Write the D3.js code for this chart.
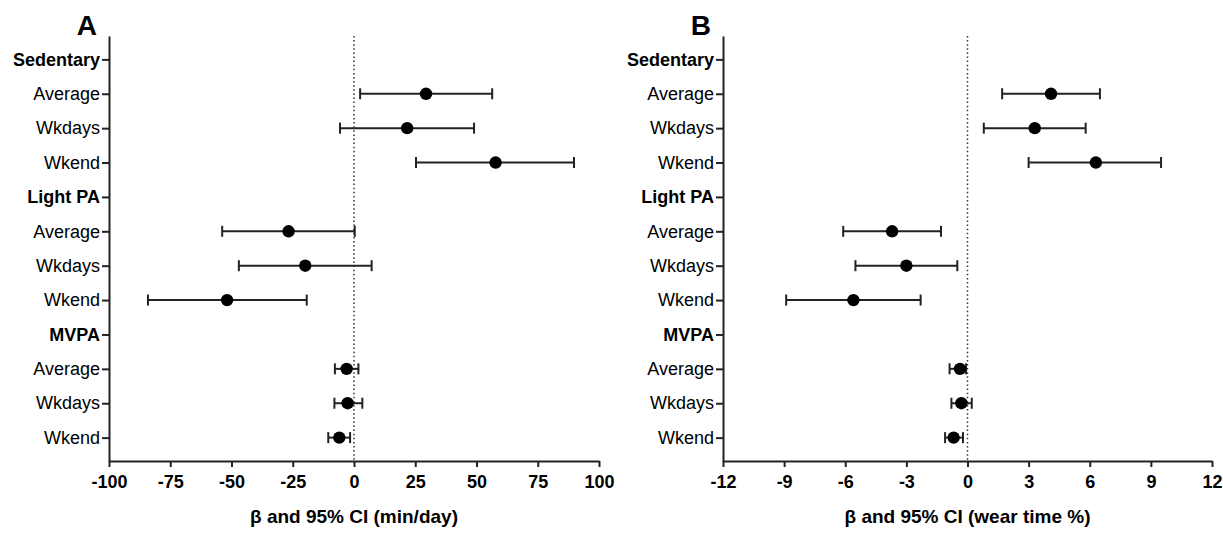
<!DOCTYPE html>
<html>
<head>
<meta charset="utf-8">
<script src="https://cdn.jsdelivr.net/npm/d3@7"></script>
<style>
  body { margin: 0; background: #fff; }
  text { font-family: "Liberation Sans", Arial, sans-serif; fill: #000; }
</style>
</head>
<body>
<div id="chart"></div>
<script>
// rows, top to bottom
var rowLabels = ["Sedentary", "Average", "Wkdays", "Wkend",
                 "Light PA", "Average", "Wkdays", "Wkend",
                 "MVPA", "Average", "Wkdays", "Wkend"];
var isHeader = [true, false, false, false, true, false, false, false, true, false, false, false];

// panel A: min/day
var estA = [null, 29.4, 21.7, 57.8, null, -26.7, -19.9, -51.8, null, -3.0, -2.6, -6.0];
var loA  = [null, 2.5, -5.7, 25.3, null, -53.8, -47.0, -84.1, null, -7.8, -8.0, -10.5];
var hiA  = [null, 56.4, 49.0, 89.8, null, 0.3, 7.2, -19.3, null, 1.8, 3.4, -1.6];
var ticksA = [-100, -75, -50, -25, 0, 25, 50, 75, 100];

// panel B: wear time %
var estB = [null, 4.1, 3.3, 6.3, null, -3.7, -3.0, -5.6, null, -0.37, -0.30, -0.68];
var loB  = [null, 1.7, 0.8, 3.0, null, -6.1, -5.5, -8.9, null, -0.88, -0.79, -1.10];
var hiB  = [null, 6.5, 5.8, 9.5, null, -1.3, -0.5, -2.3, null, -0.07, 0.21, -0.22];
var ticksB = [-12, -9, -6, -3, 0, 3, 6, 9, 12];

var width = 1223, height = 533;
var svg = d3.select("#chart").append("svg")
  .attr("width", width)
  .attr("height", height);

var yTop = 36, yBottom = 461;
var y = d3.scalePoint()
  .domain(d3.range(rowLabels.length))
  .range([yTop, yBottom])
  .padding(0.68);

drawPanel({ left: 109, right: 599, ticks: ticksA, est: estA, lo: loA, hi: hiA,
            letter: "A", title: "\u03b2 and 95% CI (min/day)" });
drawPanel({ left: 723, right: 1212, ticks: ticksB, est: estB, lo: loB, hi: hiB,
            letter: "B", title: "\u03b2 and 95% CI (wear time %)" });

function drawPanel(p) {
  var x = d3.scaleLinear()
    .domain(d3.extent(p.ticks))
    .range([p.left, p.right]);

  var g = svg.append("g");

  // zero reference line
  g.append("line")
    .attr("x1", x(0)).attr("x2", x(0))
    .attr("y1", yTop).attr("y2", yBottom)
    .attr("stroke", "#333")
    .attr("stroke-width", 1.5)
    .attr("stroke-dasharray", "1.5,2.6");

  // x axis
  var xAxis = g.append("g")
    .attr("transform", "translate(0," + yBottom + ")")
    .call(d3.axisBottom(x).tickValues(p.ticks).tickSize(6).tickSizeOuter(0)
      .tickFormat(function(d) { return String(d); }));
  xAxis.select(".domain").attr("stroke", "#222").attr("stroke-width", 2);
  xAxis.selectAll(".tick line").attr("stroke", "#222").attr("stroke-width", 2);
  xAxis.selectAll(".tick text")
    .attr("y", 14)
    .attr("font-size", "18px")
    .attr("font-weight", "bold")
    .attr("font-family", "'Liberation Sans', Arial, sans-serif")
    .attr("fill", "#000");

  // y axis
  var yAxis = g.append("g")
    .attr("transform", "translate(" + p.left + ",0)")
    .call(d3.axisLeft(y).tickSize(7).tickSizeOuter(0).tickFormat(function(i) { return rowLabels[i]; }));
  yAxis.select(".domain").attr("stroke", "#222").attr("stroke-width", 2);
  yAxis.selectAll(".tick line").attr("stroke", "#222").attr("stroke-width", 2);
  yAxis.selectAll(".tick text")
    .attr("x", -9)
    .attr("font-size", "18px")
    .attr("font-family", "'Liberation Sans', Arial, sans-serif")
    .attr("font-weight", function(i) { return isHeader[i] ? "bold" : "normal"; })
    .attr("fill", "#000");

  // error bars
  var rows = d3.range(rowLabels.length).filter(function(i) { return p.est[i] !== null; });
  var bars = g.selectAll("g.bar")
    .data(rows)
    .enter()
    .append("g")
      .attr("class", "bar");

  bars.append("line")
    .attr("x1", function(i) { return x(p.lo[i]); })
    .attr("x2", function(i) { return x(p.hi[i]); })
    .attr("y1", function(i) { return y(i); })
    .attr("y2", function(i) { return y(i); })
    .attr("stroke", "#222").attr("stroke-width", 2);

  [p.lo, p.hi].forEach(function(arr) {
    bars.append("line")
      .attr("x1", function(i) { return x(arr[i]); })
      .attr("x2", function(i) { return x(arr[i]); })
      .attr("y1", function(i) { return y(i) - 5.5; })
      .attr("y2", function(i) { return y(i) + 5.5; })
      .attr("stroke", "#222").attr("stroke-width", 2);
  });

  bars.append("circle")
    .attr("cx", function(i) { return x(p.est[i]); })
    .attr("cy", function(i) { return y(i); })
    .attr("r", 6.2)
    .attr("fill", "#000");

  // panel letter
  g.append("text")
    .attr("x", p.left - 12)
    .attr("y", 35)
    .attr("text-anchor", "end")
    .attr("font-size", "28px")
    .attr("font-weight", "bold")
    .text(p.letter);

  // x title
  g.append("text")
    .attr("x", (p.left + p.right) / 2)
    .attr("y", 523)
    .attr("text-anchor", "middle")
    .attr("font-size", "19px")
    .attr("font-weight", "bold")
    .text(p.title);
}
</script>
</body>
</html>
